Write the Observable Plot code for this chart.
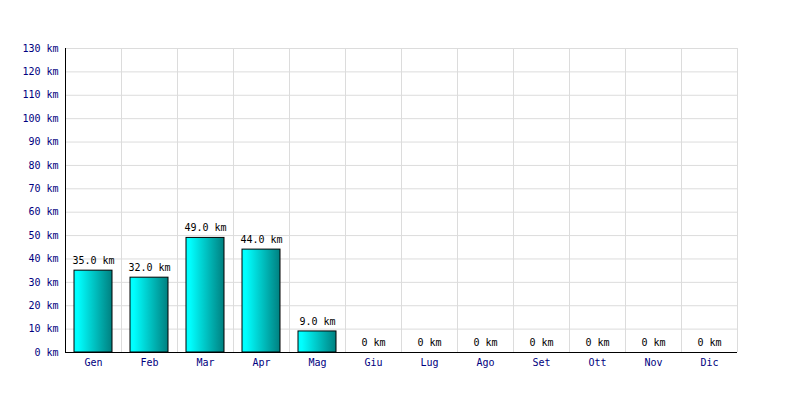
<!DOCTYPE html>
<html><head><meta charset="utf-8">
<script src="https://cdn.jsdelivr.net/npm/d3@7"></script>
<script src="https://cdn.jsdelivr.net/npm/@observablehq/plot@0.6"></script>
<style>body{margin:0;background:#fff}</style>
</head><body><div id="chart"></div>
<script>
const months = ["Gen","Feb","Mar","Apr","Mag","Giu","Lug","Ago","Set","Ott","Nov","Dic"];
const km = [35, 32, 49, 44, 9, 0, 0, 0, 0, 0, 0, 0];
const yTicks = [0,10,20,30,40,50,60,70,80,90,100,110,120,130];

const data = months.map((m, i) => ({month: m, km: km[i]}));
const font = "DejaVu Sans Mono, monospace";

const plot = Plot.plot({
  width: 800, height: 400,
  marginLeft: 65, marginRight: 63, marginTop: 48, marginBottom: 48,
  style: {fontFamily: font, fontSize: "10px", background: "#fff"},
  x: {domain: months, paddingInner: 0.32, paddingOuter: 0.16, label: null},
  y: {domain: [0, 130], label: null},
  marks: [
    () => {
      const svg = d3.create("svg:defs");
      const g = svg.append("linearGradient").attr("id", "barGrad").attr("x1", "0").attr("x2", "1").attr("y1", "0").attr("y2", "0");
      g.append("stop").attr("offset", "10%").attr("stop-color", "#00ffff");
      g.append("stop").attr("offset", "100%").attr("stop-color", "#008080");
      return svg.node();
    },
    Plot.ruleY(yTicks, {stroke: "#dcdcdc", strokeWidth: 1}),
    Plot.ruleX(months, {x: d => d, dx: 28, stroke: "#dcdcdc", strokeWidth: 1}),
    Plot.barY(data, {x: "month", y: "km", fill: "url(#barGrad)", stroke: "#000", strokeWidth: 1}),
    Plot.text(data, {x: "month", y: "km", text: d => d.km === 0 ? "0 km" : d.km.toFixed(1) + " km", dy: -10, fill: "#000", fontSize: 10}),
    Plot.axisY({ticks: yTicks, tickFormat: d => d + " km", tickSize: 0, tickPadding: 7, fill: "#000080", color: "#000080"}),
    Plot.axisX({tickSize: 0, tickPadding: 6, fill: "#000080", color: "#000080"}),
    Plot.ruleX([months[0]], {x: d => d, dx: -28, stroke: "#000", strokeWidth: 1}),
    Plot.ruleY([0], {stroke: "#000", strokeWidth: 1})
  ]
});
document.getElementById("chart").appendChild(plot);
</script></body></html>
